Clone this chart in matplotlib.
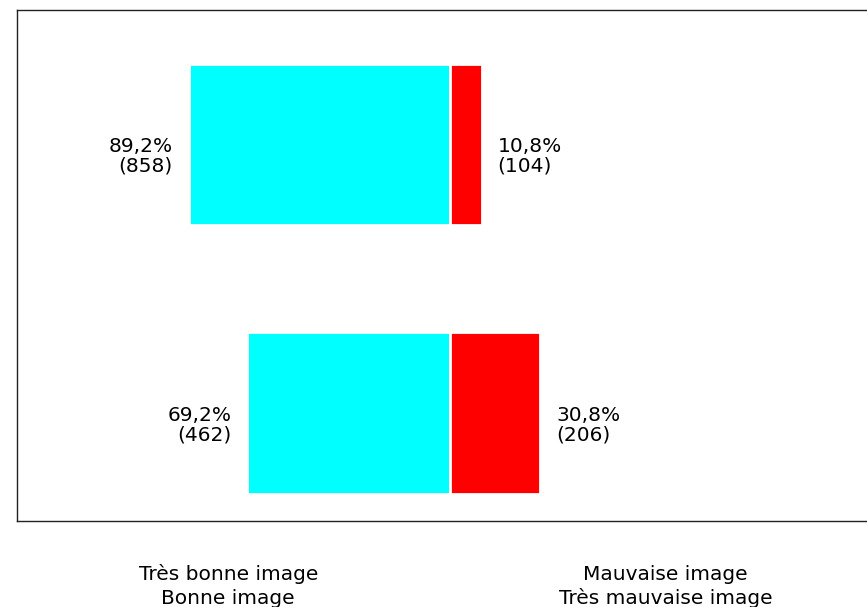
import matplotlib
matplotlib.use("Agg")
import matplotlib.pyplot as plt

plt.rcParams['font.family'] = ['DejaVu Sans']

rows = [1, 0]
good_pct = [89.2, 69.2]
good_n = [858, 462]
bad_pct = [10.8, 30.8]
bad_n = [104, 206]
left_label = ["Très bonne image", "Bonne image"]
right_label = ["Mauvaise image", "Très mauvaise image"]

def fmt(p):
    return f"{p:.1f}".replace(".", ",") + "%"

W, H = 867, 607
fig = plt.figure(figsize=(W/100, H/100), dpi=100)
ax_l, ax_r, ax_t, ax_b = 17, 867, 10, 521
ax = fig.add_axes([ax_l/W, 1-ax_b/H, (ax_r-ax_l)/W, (ax_b-ax_t)/H])

sx = 2.93          # px per percent
cx = 450           # px of zero
ylo, yhi = -0.4, 1.5
py_per_unit = (ax_b-ax_t)/(yhi-ylo)

h = 0.602
ax.barh(rows, [-g for g in good_pct], height=h, color="#00FFFF",
        edgecolor="white", linewidth=2.0)
ax.barh(rows, bad_pct, height=h, color="#FF0000",
        edgecolor="white", linewidth=2.0)

fs = 14.5
d1 = 8/py_per_unit
d2 = 27/py_per_unit
off = 5.4
for y, g, gn, b, bn in zip(rows, good_pct, good_n, bad_pct, bad_n):
    ax.text(-g - off, y - d1, fmt(g), ha="right", va="baseline", fontsize=fs)
    ax.text(-g - off, y - d2, f"({gn})", ha="right", va="baseline", fontsize=fs)
    ax.text(b + off, y - d1, fmt(b), ha="left", va="baseline", fontsize=fs)
    ax.text(b + off, y - d2, f"({bn})", ha="left", va="baseline", fontsize=fs)

ax.set_xlim((ax_l-cx)/sx, (ax_r-cx)/sx)
ax.set_ylim(ylo, yhi)
ax.set_xticks([])
ax.set_yticks([])
for s in ["left", "top", "bottom"]:
    ax.spines[s].set_color("#222222")
    ax.spines[s].set_linewidth(1.0)
ax.spines["right"].set_visible(False)

tr = ax.get_xaxis_transform()
span = ax_b - ax_t
for xc, lines in [(-75.7, left_label), (73.5, right_label)]:
    for yy, t in zip([580, 604], lines):
        ax.text(xc, (ax_b-yy)/span, t, ha="center", va="baseline", fontsize=fs,
                transform=tr, clip_on=False)

fig.savefig("out.png", dpi=100)
